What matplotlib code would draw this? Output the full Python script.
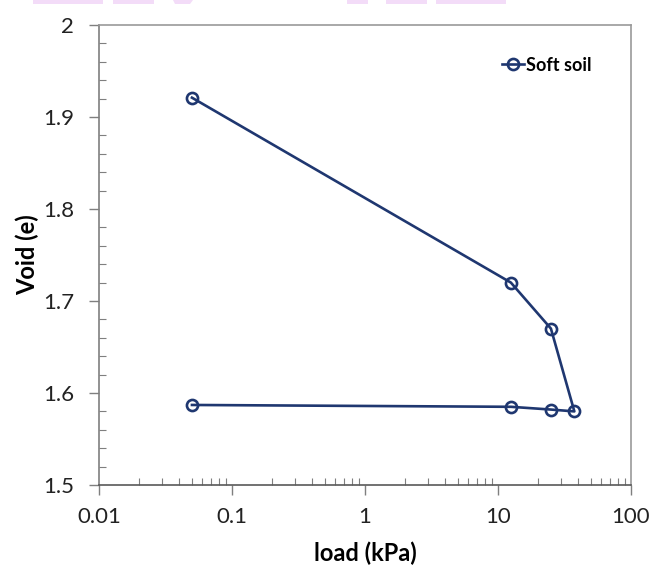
import matplotlib.pyplot as plt
from matplotlib.patches import Polygon
from matplotlib.ticker import LogLocator, MultipleLocator, FixedLocator

plt.rcParams['font.family'] = ['Lato', 'DejaVu Sans']

load = [0.05, 12.5, 25, 37.5, 25, 12.5, 0.05]
void = [1.921, 1.720, 1.670, 1.580, 1.582, 1.585, 1.587]
x_ticks = [0.01, 0.1, 1, 10, 100]
x_labels = ['0.01', '0.1', '1', '10', '100']
y_ticks = [1.5, 1.6, 1.7, 1.8, 1.9, 2]
y_labels = ['1.5', '1.6', '1.7', '1.8', '1.9', '2']

navy = '#1f3770'
fig = plt.figure(figsize=(6.52, 5.66), dpi=100)
ax = fig.add_axes([99 / 652, 1 - 485 / 566, 532 / 652, 460 / 566])

ax.plot(load, void, color=navy, lw=1.9, marker='o', ms=8, mfc='none',
        mec=navy, mew=1.9, label='Soft soil')

ax.set_xscale('log')
ax.set_xlim(0.01, 100)
ax.set_ylim(1.5, 2)
ax.xaxis.set_major_locator(FixedLocator(x_ticks))
ax.set_xticklabels(x_labels)
ax.xaxis.set_minor_locator(LogLocator(base=10, subs=range(2, 10)))
ax.xaxis.set_minor_formatter(plt.NullFormatter())
ax.yaxis.set_major_locator(FixedLocator(y_ticks))
ax.set_yticklabels(y_labels)
ax.yaxis.set_minor_locator(MultipleLocator(0.02))

ax.tick_params(which='major', direction='out', length=7, width=1, color='#7f7f7f',
               labelsize=16, labelcolor='#222222')
ax.tick_params(which='minor', direction='in', length=5, width=0.8, color='#7f7f7f')
ax.tick_params(axis='x', which='major', pad=9)
ax.tick_params(axis='y', which='major', pad=11)

for s in ax.spines.values():
    s.set_color('#9a9a9a')
    s.set_linewidth(1.2)
ax.spines['left'].set_color('#7f7f7f')
ax.spines['bottom'].set_color('#595959')

ax.set_xlabel('load (kPa)', fontsize=17, fontweight='bold', labelpad=10)
ax.set_ylabel('Void (e)', fontsize=17, fontweight='bold', labelpad=3)

leg = ax.legend(loc='center right', bbox_to_anchor=(0.925, 0.913), frameon=False,
                handlelength=1.2, handletextpad=0.1, borderpad=0, borderaxespad=0,
                prop={'weight': 'bold', 'size': 13})

# pale pink smudges along the top edge of the image
for x0, x1 in [(33, 103), (113, 154), (347, 368), (386, 427), (436, 506)]:
    fig.patches.append(plt.Rectangle((x0 / 652, 1 - 4 / 566), (x1 - x0) / 652, 4 / 566,
                                     transform=fig.transFigure, color='#f3dcf8', lw=0))
fig.patches.append(Polygon([(173 / 652, 1), (193 / 652, 1), (190 / 652, 1 - 4 / 566),
                            (175 / 652, 1 - 4 / 566)], closed=True,
                           transform=fig.transFigure, color='#f3dcf8', lw=0))

fig.savefig('out.png', dpi=100)
